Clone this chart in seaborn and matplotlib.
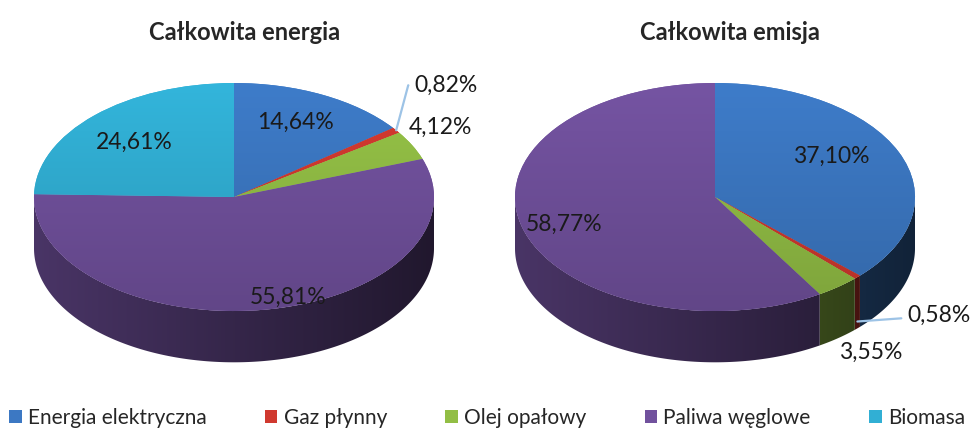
import numpy as np
import matplotlib
matplotlib.use("Agg")
import matplotlib.pyplot as plt
import seaborn as sns
from matplotlib.patches import Patch, Polygon
import matplotlib.colors as mcolors

# ---------------- data ----------------
categories = ["Energia elektryczna", "Gaz płynny", "Olej opałowy", "Paliwa węglowe", "Biomasa"]
energia = [14.64, 0.82, 4.12, 55.81, 24.61]
emisja = [37.10, 0.58, 3.55, 58.77, 0.0]
energia_labels = ["14,64%", "0,82%", "4,12%", "55,81%", "24,61%"]
emisja_labels = ["37,10%", "0,58%", "3,55%", "58,77%", ""]
titles = ["Całkowita energia", "Całkowita emisja"]
palette_hex = ["#3C78C3", "#D0392F", "#92BE45", "#71519D", "#31AFD4"]

# ---------------- style ----------------
sns.set_theme(style="white")
plt.rcParams["font.family"] = ["Lato", "DejaVu Sans"]
colors = sns.color_palette(palette_hex)

W, H = 974, 432
fig = plt.figure(figsize=(W / 100, H / 100), dpi=100)
RX, RY = 200.0, 114.0       # pixel radii of the elliptical top face
DEPTH = 0.45                # wall height in y-radius units
LABEL_FS = 16.5
LEADER = "#9DC3E6"


def add_pie_axes(cx, cy, x0, x1, y0, y1):
    ax = fig.add_axes([x0 / W, 1 - y1 / H, (x1 - x0) / W, (y1 - y0) / H])
    return ax, (-(cx - x0) / RX, (x1 - cx) / RX), (-(y1 - cy) / RY, (cy - y0) / RY)


def gradient_fill(ax, patch, color, horizontal, zorder):
    base = np.array(mcolors.to_rgb(color))
    s = np.linspace(-1, 1, 256)
    if horizontal:
        f = 0.47 - 0.18 * s                       # walls: lit from the left
        img = np.clip(base[None, None, :] * f[None, :, None], 0, 1)
        img = np.repeat(img, 2, axis=0)
        extent = [-1, 1, -1 - DEPTH - 0.05, 1]
    else:
        f = 0.86 + 0.18 * (s + 1) / 2             # tops: lighter towards the back
        img = np.clip(base[None, None, :] * f[:, None, None], 0, 1)
        img = np.repeat(img, 2, axis=1)
        extent = [-1.05, 1.05, -1.05, 1.05]
    im = ax.imshow(img, extent=extent, origin="lower", aspect="auto",
                   interpolation="bilinear", zorder=zorder)
    im.set_clip_path(patch)


def draw_pie3d(ax, xlim, ylim, values, labels, inner, outer, title):
    wedges, _ = ax.pie(values, colors=colors, startangle=90, counterclock=False,
                       radius=1, wedgeprops=dict(linewidth=0, zorder=3))
    # walls (front half of the cylinder)
    for w, c in zip(wedges, colors):
        t1, t2 = w.theta1, w.theta2
        if t2 - t1 <= 0:
            continue
        for off in (-360, 0, 360):
            lo, hi = max(t1, 180 + off), min(t2, 360 + off)
            if hi <= lo:
                continue
            ts = np.radians(np.linspace(lo, hi, max(2, int((hi - lo) * 2) + 1)))
            top = np.column_stack([np.cos(ts), np.sin(ts)])
            bot = np.column_stack([np.cos(ts), np.sin(ts) - DEPTH])[::-1]
            poly = Polygon(np.vstack([top, bot]), closed=True, facecolor="none",
                           edgecolor="none", zorder=1)
            ax.add_patch(poly)
            gradient_fill(ax, poly, c, True, 1)
    # shaded tops
    for w, c in zip(wedges, colors):
        if w.theta2 - w.theta1 <= 0:
            continue
        gradient_fill(ax, w, c, False, 3.5)

    # inside labels
    for w, lab, spec in zip(wedges, labels, inner):
        if spec is None or not lab:
            continue
        r, dang = spec
        mid = np.radians((w.theta1 + w.theta2) / 2 + dang)
        ax.text(r * np.cos(mid), r * np.sin(mid), lab, ha="center", va="center",
                fontsize=LABEL_FS, color="#1a1a1a", zorder=5)
    # outside labels with leaders
    for w, lab, spec in zip(wedges, labels, outer):
        if spec is None or not lab:
            continue
        tx, ty, drop, leader, cs = spec
        mid = np.radians((w.theta1 + w.theta2) / 2)
        xy = (np.cos(mid), np.sin(mid) - drop)
        if leader:
            ax.annotate(lab, xy=xy, xytext=(tx, ty), ha="center", va="center",
                        fontsize=LABEL_FS, color="#1a1a1a", zorder=5,
                        arrowprops=dict(arrowstyle="-", color=LEADER, lw=1.6,
                                        shrinkA=2, shrinkB=0, connectionstyle=cs))
        else:
            ax.text(tx, ty, lab, ha="center", va="center", fontsize=LABEL_FS,
                    color="#1a1a1a", zorder=5)
    ax.set_aspect("auto")
    ax.set_xlim(*xlim)
    ax.set_ylim(*ylim)
    ax.axis("off")
    ax.set_title(title, fontsize=17, fontweight="bold", pad=0, y=1.0)


# left pie
axL, xlL, ylL = add_pie_axes(234, 197, 10, 480, 40, 380)
draw_pie3d(axL, xlL, ylL, energia, energia_labels,
           inner=[(0.72, 1), None, None, (0.92, 8), (0.69, 2)],
           outer=[None,
                  (1.06, 0.98, 0.0, True, "angle,angleA=180,angleB=75,rad=0"),
                  (1.03, 0.61, 0.0, False, None),
                  None, None],
           title=titles[0])
# right pie
axR, xlR, ylR = add_pie_axes(715, 197, 495, 965, 40, 380)
draw_pie3d(axR, xlR, ylR, emisja, emisja_labels,
           inner=[(0.68, 8), None, None, (0.79, 2), None],
           outer=[None,
                  (1.12, -1.04, 0.39, True, "arc3,rad=0"),
                  (0.78, -1.36, 0.0, False, None),
                  None, None],
           title=titles[1])

# legend
handles = [Patch(facecolor=c, edgecolor="none") for c in colors]
fig.legend(handles, categories, loc="center", bbox_to_anchor=(0.5, 1 - 418 / H),
           ncol=5, frameon=False, fontsize=15, handlelength=0.6, handleheight=0.6,
           handletextpad=0.3, columnspacing=2.8, borderaxespad=0)

fig.savefig("out.png", dpi=100)
